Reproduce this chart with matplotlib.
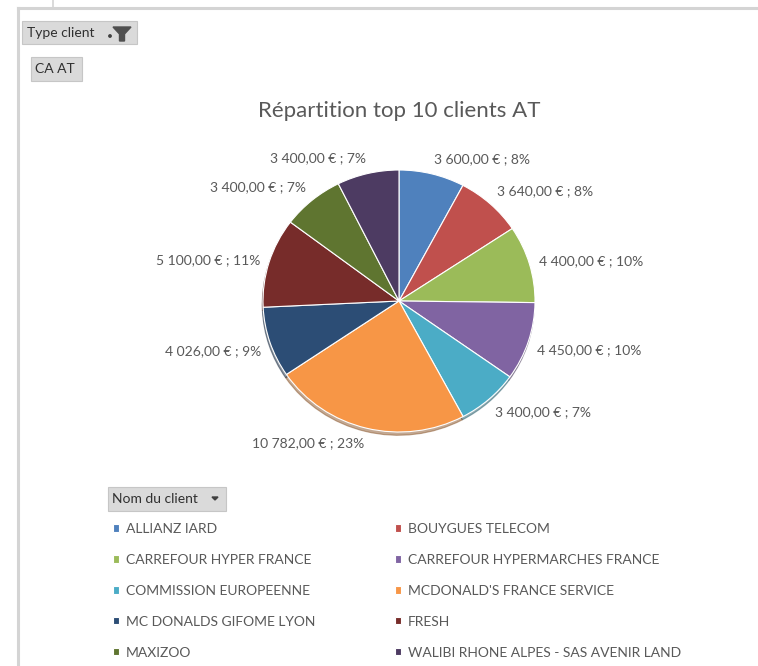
import numpy as np
import matplotlib.pyplot as plt
from matplotlib.patches import Rectangle, Polygon, Circle

plt.rcParams['font.family'] = ['Lato', 'DejaVu Sans']

# data
clients = ["ALLIANZ IARD", "BOUYGUES TELECOM", "CARREFOUR HYPER FRANCE",
           "CARREFOUR HYPERMARCHES FRANCE", "COMMISSION EUROPEENNE",
           "MCDONALD'S FRANCE SERVICE", "MC DONALDS GIFOME LYON", "FRESH",
           "MAXIZOO", "WALIBI RHONE ALPES - SAS AVENIR LAND"]
ca_at = [3600.00, 3640.00, 4400.00, 4450.00, 3400.00,
         10782.00, 4026.00, 5100.00, 3400.00, 3400.00]
colors = ["#4f81bd", "#c0504d", "#9bbb59", "#8064a2", "#4bacc6",
          "#f79646", "#2c4d75", "#772c2a", "#5f7530", "#4d3b62"]

total = sum(ca_at)


def fmt(v):
    s = f"{v:,.2f}".replace(",", " ").replace(".", ",")
    return f"{s} € ; {round(100 * v / total)}%"


labels = [fmt(v) for v in ca_at]

W, H = 758, 666
fig = plt.figure(figsize=(W / 100, H / 100), dpi=100)
fig.patch.set_facecolor('white')

# background decorations in pixel coordinates
ax0 = fig.add_axes([0, 0, 1, 1])
ax0.set_xlim(0, W)
ax0.set_ylim(H, 0)
ax0.axis('off')

# sheet frame
ax0.plot([18, 18], [8, H], color='#d4d4d4', lw=2.2)
ax0.plot([18, W], [8, 8], color='#d4d4d4', lw=2.2)
ax0.plot([53, 53], [0, 8], color='#d4d4d4', lw=1.2)


# pivot field buttons
def button(x0, y0, x1, y1):
    ax0.add_patch(Rectangle((x0, y0), x1 - x0, y1 - y0, fc='#dadada',
                            ec='#c6c6c6', lw=0.8))


button(22, 21, 137, 44)
ax0.text(27, 33, "Type client", fontsize=10, color='#303030',
         ha='left', va='center')
ax0.add_patch(Circle((110, 36), 1.2, color='#404040'))
ax0.add_patch(Polygon([(113, 27), (131, 27), (124.5, 34), (124.5, 41),
                       (119.5, 41), (119.5, 34)], closed=True, color='#505050'))

button(31, 57, 82, 81)
ax0.text(35, 69, "CA AT", fontsize=10, color='#303030',
         ha='left', va='center')

button(108, 487, 226, 511)
ax0.text(112, 499, "Nom du client", fontsize=10, color='#303030',
         ha='left', va='center')
ax0.add_patch(Polygon([(212, 497), (218, 497), (215, 500)], closed=True,
                      color='#404040'))

# pie chart
cx, cy, rx, ry = 399, 301, 136, 131
ax = fig.add_axes([(cx - rx) / W, (H - cy - ry) / H, 2 * rx / W, 2 * ry / H])
wedges, texts = ax.pie(ca_at, colors=colors, labels=labels, startangle=90,
                       counterclock=False, labeldistance=1.07,
                       wedgeprops=dict(edgecolor='white', linewidth=0.8),
                       textprops=dict(color='#595959', fontsize=10),
                       shadow=dict(ox=-0.004, oy=-0.018, shade=0.45))
ax.set_aspect('auto')
ax.set_xlim(-1, 1)
ax.set_ylim(-1, 1)

# outside-end labels: near top/bottom the box hangs from its corner
for t in texts:
    x, y = t.get_position()
    s = y / np.hypot(x, y)
    if s > 0.5:
        t.set_va('bottom')
    elif s < -0.25:
        t.set_va('top')

fig.text(cx / W, 1 - 111 / H, "Répartition top 10 clients AT",
         fontsize=16, color='#595959', ha='center', va='center')

order = [0, 2, 4, 6, 8, 1, 3, 5, 7, 9]
fig.legend([wedges[i] for i in order], [clients[i] for i in order],
           ncol=2, loc='upper left', bbox_to_anchor=(113 / W, 1 - 523 / H),
           frameon=False, handlelength=0.45, handleheight=0.45,
           handletextpad=0.5, labelspacing=1.36, columnspacing=5.7,
           borderpad=0, borderaxespad=0, fontsize=10, labelcolor='#595959')

fig.savefig('out.png', dpi=100, facecolor='white')
